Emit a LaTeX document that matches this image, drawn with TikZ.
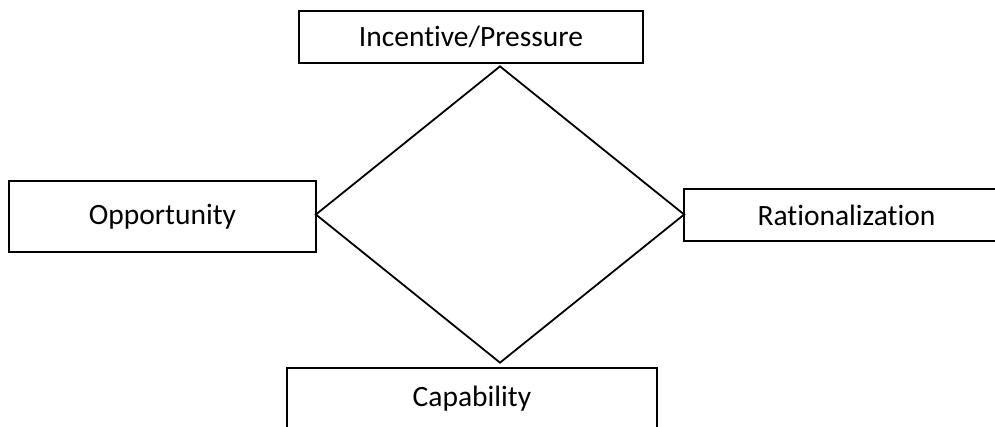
\documentclass[tikz,border=0pt]{standalone}
\usepackage{fontspec}
\setmainfont{Carlito}[Ligatures=NoCommon]
\usetikzlibrary{shapes.geometric}

\begin{document}
\begin{tikzpicture}[
  x=1pt, y=-1pt,
  every node/.style={font=\fontsize{29.5}{35}\selectfont},
  box/.style={draw, line width=2pt, inner sep=0pt, align=center},
  rhombus/.style={draw, diamond, line width=1.8pt, inner sep=0pt, aspect=1.24},
]
  \useasboundingbox (0,0) rectangle (995,426);
  \clip (0,0) rectangle (995,426);
  \node[box, minimum width=344pt, minimum height=52pt] (incentive) at (471,37) {Incentive/Pressure};
  \node[box, minimum width=307pt, minimum height=71pt] (opportunity) at (162.5,216.5) {Opportunity};
  \node[box, minimum width=325pt, minimum height=52pt] (rational) at (846.5,215) {Rationalization};
  \node[box, minimum width=370pt, minimum height=62pt] (capability) at (472,399) {Capability};
  \node[rhombus, minimum width=369pt, minimum height=297pt] (triangle) at (500,214.5) {};
\end{tikzpicture}
\end{document}
